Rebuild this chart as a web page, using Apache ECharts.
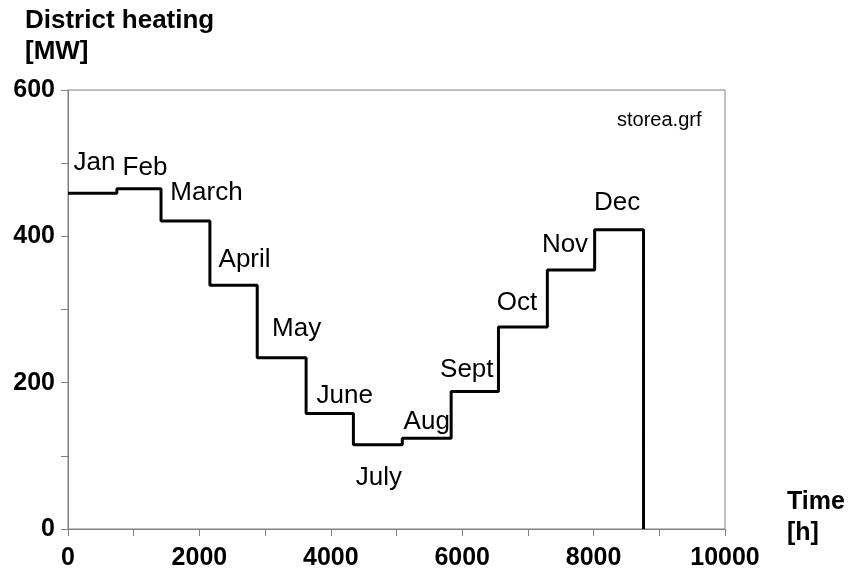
<!DOCTYPE html>
<html>
<head>
<meta charset="UTF-8">
<title>District heating</title>
<script src="https://cdn.jsdelivr.net/npm/echarts@6/dist/echarts.min.js"></script>
<style>
  html, body { margin: 0; padding: 0; background: #fff; }
  #view { width: 852px; height: 571px; }
</style>
</head>
<body>
<div id="view"></div>
<script>
// month names and hours per month (days * 24)
var months = ['Jan', 'Feb', 'March', 'April', 'May', 'June', 'July', 'Aug', 'Sept', 'Oct', 'Nov', 'Dec'];
var monthDays = [31, 28, 31, 30, 31, 30, 31, 31, 30, 31, 30, 31];
// district heating load per month [MW]
var heatMW = [459, 465, 421, 333, 234, 158, 115, 124, 188, 276, 354, 409];
var xTicks = [0, 2000, 4000, 6000, 8000, 10000];
var yTicks = [0, 200, 400, 600];

// where each month name sits relative to its step (pixels)
var labelOffset = [[2, -30], [6, -21], [21, -28], [11, -26], [15, -29], [15, -18],
                   [1, 33], [0, -16], [-8, -22], [-6, -24], [-6, -25], [-2, -27]];

var FONT = 'Arial, "Liberation Sans", sans-serif';
var GRAY = '#808080';

// step line points: start hour of each month, then drop to zero at year end
var stepData = [];
var labelData = [];
var t = 0;
for (var i = 0; i < months.length; i++) {
    var len = monthDays[i] * 24;
    stepData.push([t, heatMW[i]]);
    labelData.push({
        value: [t + len / 2, heatMW[i]],
        name: months[i],
        label: { offset: labelOffset[i] }
    });
    t += len;
}
stepData.push([t, heatMW[months.length - 1]]);
stepData.push([t, 0]);

var myChart = echarts.init(document.getElementById('view'));

var option = {
    animation: false,
    backgroundColor: '#fff',
    textStyle: { fontFamily: FONT },
    title: [
        {
            text: 'District heating\n[MW]',
            left: 25, top: 5, padding: 0,
            textStyle: { fontFamily: FONT, fontSize: 26, fontWeight: 'bold', color: '#000', lineHeight: 31 }
        },
        {
            text: 'Time\n[h]',
            left: 787, top: 487, padding: 0,
            textStyle: { fontFamily: FONT, fontSize: 25, fontWeight: 'bold', color: '#000', lineHeight: 31 }
        },
        {
            text: 'storea.grf',
            left: 617, top: 110, padding: 0,
            textStyle: { fontFamily: FONT, fontSize: 20, fontWeight: 'normal', color: '#000' }
        }
    ],
    grid: {
        left: 68, right: 127, top: 90, bottom: 41,
        show: true,
        borderColor: GRAY,
        borderWidth: 1
    },
    xAxis: {
        type: 'value',
        min: 0, max: 10000, interval: 1000,
        axisLine: { show: true, onZero: false, lineStyle: { color: GRAY, width: 1 } },
        axisTick: { show: true, length: 7, lineStyle: { color: GRAY } },
        splitLine: { show: false },
        axisLabel: {
            margin: 17,
            fontFamily: FONT, fontSize: 25, fontWeight: 'bold', color: '#000',
            formatter: function (v) { return xTicks.indexOf(v) >= 0 ? String(v) : ''; }
        }
    },
    yAxis: {
        type: 'value',
        min: 0, max: 600, interval: 100,
        axisLine: { show: true, onZero: false, lineStyle: { color: GRAY, width: 1 } },
        axisTick: { show: true, length: 7, lineStyle: { color: GRAY } },
        splitLine: { show: false },
        axisLabel: {
            margin: 13,
            fontFamily: FONT, fontSize: 25, fontWeight: 'bold', color: '#000',
            formatter: function (v) { return yTicks.indexOf(v) >= 0 ? String(v) : ''; }
        }
    },
    series: [
        {
            type: 'line',
            step: 'end',
            data: stepData,
            showSymbol: false,
            lineStyle: { color: '#000', width: 3 },
            z: 3
        },
        {
            type: 'scatter',
            data: labelData,
            symbolSize: 0,
            itemStyle: { color: '#000', opacity: 1 },
            label: {
                show: true,
                position: 'inside',
                formatter: '{b}',
                fontFamily: FONT, fontSize: 26, color: '#000',
                opacity: 1,
                textBorderWidth: 0
            },
            z: 4
        }
    ]
};
myChart.setOption(option);
</script>
</body>
</html>
